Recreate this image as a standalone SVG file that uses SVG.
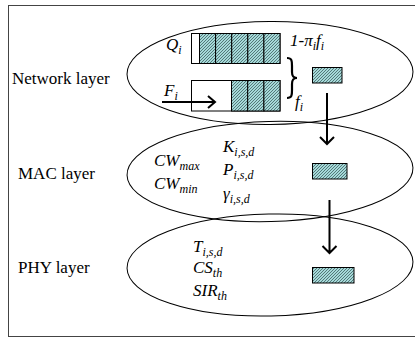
<svg xmlns="http://www.w3.org/2000/svg" width="415" height="338" viewBox="0 0 415 338">
<style>
.lbl{font-family:"Liberation Serif","Times New Roman",serif;font-size:17px;fill:#000}
.m{font-family:"Liberation Serif","Times New Roman",serif;font-style:italic;font-size:17px;fill:#000}
.s{font-size:12px}
.ell{fill:none;stroke:#000;stroke-width:1}
.cell{fill:url(#hatch);stroke:#000;stroke-width:1}
.box{fill:#fff;stroke:#000;stroke-width:1}
.arr{fill:none;stroke:#000;stroke-width:2}
</style>
<defs>
<pattern id="hatch" patternUnits="userSpaceOnUse" width="3" height="3">
<rect width="3" height="3" fill="#a6d9d9"/>
<path d="M-1,1 L1,-1 M0,3 L3,0 M2,4 L4,2" stroke="#2f4f4f" stroke-width="0.7"/>
</pattern>
</defs>
<rect x="8.5" y="5.5" width="420" height="331" fill="#fff" stroke="#444" stroke-width="1"/>

<g id="network">
<ellipse class="ell" cx="270" cy="73" rx="143" ry="51.5" transform="rotate(-0.5 270 73)"/>
<text class="lbl" x="12" y="84">Network layer</text>
<rect class="box" x="191.5" y="33.5" width="88.5" height="30"/>
<rect class="cell" x="199.5" y="33.5" width="16.1" height="30"/>
<rect class="cell" x="215.6" y="33.5" width="16.1" height="30"/>
<rect class="cell" x="231.7" y="33.5" width="16.1" height="30"/>
<rect class="cell" x="247.8" y="33.5" width="16.1" height="30"/>
<rect class="cell" x="263.9" y="33.5" width="16.1" height="30"/>
<rect class="box" x="191.5" y="80.5" width="88.5" height="30.5"/>
<rect class="cell" x="231.5" y="80.5" width="16.2" height="30.5"/>
<rect class="cell" x="247.7" y="80.5" width="16.2" height="30.5"/>
<rect class="cell" x="263.9" y="80.5" width="16.1" height="30.5"/>
<text class="m" x="166" y="50">Q<tspan class="s" dy="4">i</tspan></text>
<text class="m" x="164" y="96">F<tspan class="s" dy="4">i</tspan></text>
<path class="arr" d="M162,102 H215 M208,96 L215,102 L208,108"/>
<text class="m" x="290" y="46">1-π<tspan class="s" dy="4">i</tspan><tspan dy="-4">f</tspan><tspan class="s" dy="4">i</tspan></text>
<path d="M287,58 C292,58 292,61 292,66 L292,72 C292,76 293,78 297,78 C293,78 292,80 292,84 L292,90 C292,95 292,98 287,98" fill="none" stroke="#000" stroke-width="2.2"/>
<text class="m" x="295" y="107">f<tspan class="s" dy="4">i</tspan></text>
<rect class="cell" x="312.5" y="67.5" width="29.5" height="15.5"/>
</g>

<g id="mac">
<ellipse class="ell" cx="270" cy="171.5" rx="143" ry="50" transform="rotate(-1.5 270 171.5)"/>
<text class="lbl" x="18" y="179">MAC layer</text>
<text class="m" x="154" y="166">CW<tspan class="s" dy="4">max</tspan></text>
<text class="m" x="154" y="189">CW<tspan class="s" dy="4">min</tspan></text>
<text class="m" x="223" y="152">K<tspan class="s" dy="4">i,s,d</tspan></text>
<text class="m" x="223" y="175">P<tspan class="s" dy="4">i,s,d</tspan></text>
<text class="m" x="223" y="199">γ<tspan class="s" dy="4">i,s,d</tspan></text>
<rect class="cell" x="312.5" y="163.5" width="34.5" height="15.5"/>
</g>

<g id="phy">
<ellipse class="ell" cx="270" cy="265" rx="143" ry="51" transform="rotate(-1.3 270 265)"/>
<text class="lbl" x="18" y="273">PHY layer</text>
<text class="m" x="193" y="252">T<tspan class="s" dy="4">i,s,d</tspan></text>
<text class="m" x="193" y="273">CS<tspan class="s" dy="4">th</tspan></text>
<text class="m" x="193" y="296">SIR<tspan class="s" dy="4">th</tspan></text>
<rect class="cell" x="312.5" y="267.5" width="41.5" height="15.5"/>
</g>

<g id="connectors">
<path class="arr" d="M327,93 V144 M320,137 L327,144 L334,137"/>
<path class="arr" d="M329.5,200 V253 M322.5,246 L329.5,253 L336.5,246"/>
</g>
</svg>
